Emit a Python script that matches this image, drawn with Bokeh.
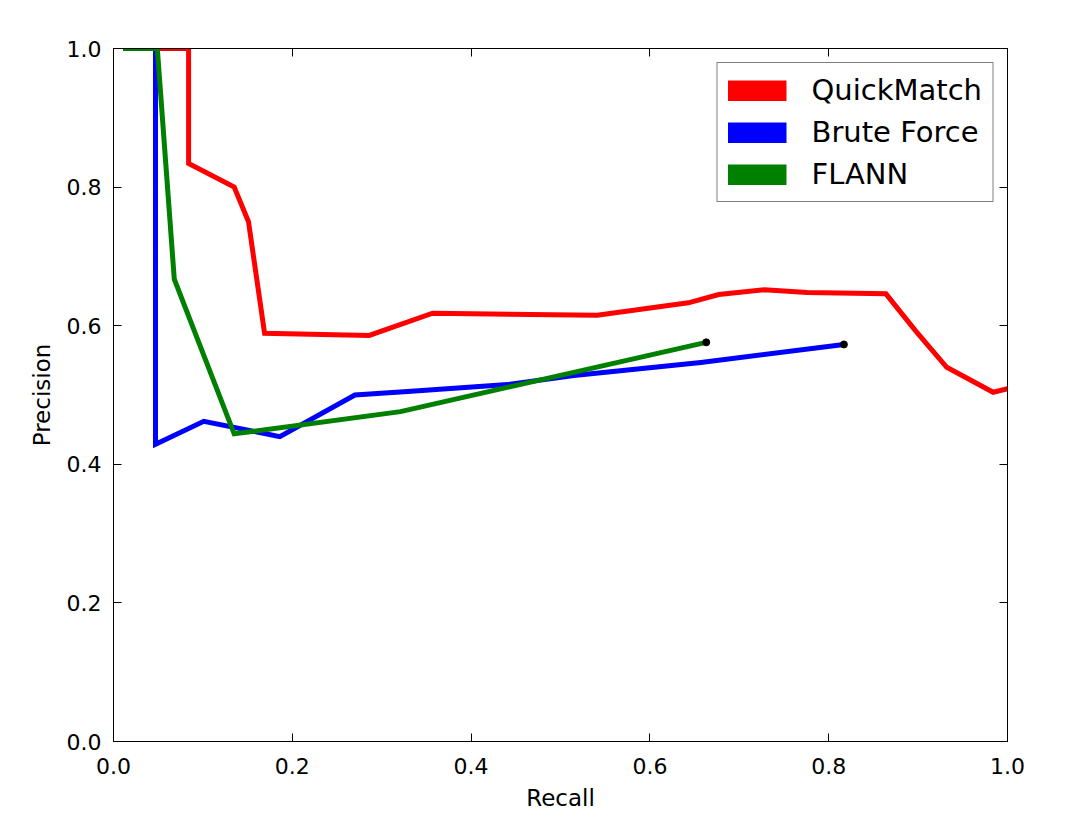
from bokeh.plotting import figure
from bokeh.models import (LinearAxis, FixedTicker, PrintfTickFormatter, Legend, LegendItem)
from bokeh.embed import file_html
from bokeh.resources import INLINE

# ---- data ----
qm_recall = [0.011, 0.084, 0.084, 0.135, 0.151, 0.169, 0.286, 0.357, 0.541, 0.643, 0.677,
             0.728, 0.776, 0.864, 0.897, 0.932, 0.984, 1.0]
qm_precision = [1.0, 1.0, 0.834, 0.800, 0.750, 0.589, 0.586, 0.618, 0.615, 0.633, 0.645,
                0.652, 0.648, 0.646, 0.593, 0.540, 0.504, 0.509]

bf_recall = [0.011, 0.047, 0.047, 0.101, 0.186, 0.270, 0.329, 0.441, 0.515, 0.657, 0.817]
bf_precision = [1.0, 1.0, 0.429, 0.462, 0.440, 0.500, 0.505, 0.515, 0.528, 0.547, 0.573]

fl_recall = [0.011, 0.049, 0.068, 0.135, 0.321, 0.663]
fl_precision = [1.0, 1.0, 0.667, 0.444, 0.476, 0.576]

series_names = ["QuickMatch", "Brute Force", "FLANN"]
series_colors = ["#ff0000", "#0000ff", "#008000"]

tick_values = [0.0, 0.2, 0.4, 0.6, 0.8, 1.0]

FONT = "DejaVu Sans"

p = figure(frame_width=894, frame_height=693, x_range=(0, 1), y_range=(0, 1),
           output_backend="svg", toolbar_location=None,
           min_border_left=113, min_border_top=48, min_border_right=60, min_border_bottom=60)
p.xgrid.visible = False
p.ygrid.visible = False
p.outline_line_color = "black"
p.outline_line_width = 1
p.background_fill_color = "white"
p.border_fill_color = "white"

def style_axis(ax, show_labels=True):
    ax.ticker = FixedTicker(ticks=tick_values)
    ax.formatter = PrintfTickFormatter(format="%.1f")
    ax.major_tick_in = 8
    ax.major_tick_out = 0
    ax.minor_tick_line_color = None
    ax.axis_line_color = "black"
    ax.major_tick_line_color = "black"
    ax.major_label_text_font = FONT
    ax.major_label_text_font_size = "22px"
    ax.major_label_text_color = "black"
    ax.axis_label_text_font = FONT
    ax.axis_label_text_font_size = "23px"
    ax.axis_label_text_font_style = "normal"
    ax.axis_label_text_color = "black"
    if not show_labels:
        ax.major_label_text_color = None
        ax.major_label_standoff = 0

xa = p.xaxis[0]
style_axis(xa)
xa.axis_label = "Recall"
xa.major_label_standoff = 16
xa.axis_label_standoff = 8

ya = p.yaxis[0]
style_axis(ya)
ya.axis_label = "Precision"
ya.major_label_standoff = 12
ya.axis_label_standoff = 9

top = LinearAxis()
style_axis(top, False)
p.add_layout(top, "above")
right = LinearAxis()
style_axis(right, False)
p.add_layout(right, "right")

data = [(qm_recall, qm_precision), (bf_recall, bf_precision), (fl_recall, fl_precision)]
for (xs, ys), c in zip(data, series_colors):
    p.line(xs, ys, line_color=c, line_width=5, line_join="miter")

# end markers
p.scatter([bf_recall[-1], fl_recall[-1]], [bf_precision[-1], fl_precision[-1]],
          size=7, color="black")

# legend patches: thick proxy lines placed outside the visible range
items = []
for name, c in zip(series_names, series_colors):
    r = p.line([5, 6], [5, 6], line_color=c, line_width=21, line_cap="butt")
    items.append(LegendItem(label=name, renderers=[r]))

legend = Legend(items=items, location="top_right", margin=14, padding=10,
                glyph_width=59, glyph_height=21, label_standoff=25,
                label_height=31, spacing=8,
                label_text_font=FONT, label_text_font_size="29px",
                label_text_color="black",
                border_line_color="black", border_line_width=1,
                background_fill_alpha=1.0)
p.add_layout(legend)

open("out.html", "w").write(file_html(p, INLINE))
